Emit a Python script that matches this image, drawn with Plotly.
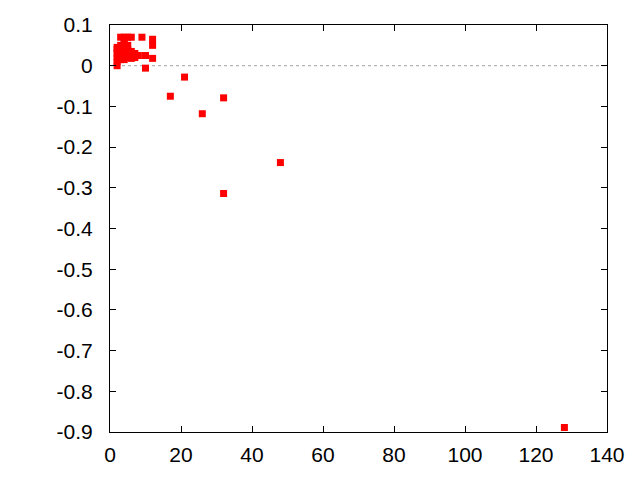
import plotly.graph_objects as go

# data
x_vals = [2, 2, 2, 2, 2, 2,
          3, 3, 3, 3, 3, 3,
          4, 4, 4, 4, 4, 4, 4,
          5, 5, 5, 5, 5,
          6, 6, 6, 6,
          7, 7, 8,
          9, 10, 10,
          12, 12, 12,
          17, 21, 26, 32, 32, 48, 128]
y_vals = [0.0, 0.01, 0.02, 0.03, 0.04, 0.045,
          0.05, 0.04, 0.03, 0.02, 0.015, 0.07,
          0.055, 0.045, 0.035, 0.025, 0.015, 0.07, 0.06,
          0.05, 0.04, 0.03, 0.02, 0.07,
          0.035, 0.025, 0.018, 0.07,
          0.03, 0.02, 0.025,
          0.07, 0.025, -0.006,
          0.065, 0.05, 0.018,
          -0.075, -0.028, -0.118, -0.079, -0.314, -0.238, -0.889]

x_ticks = [0, 20, 40, 60, 80, 100, 120, 140]
y_ticks = [0.1, 0, -0.1, -0.2, -0.3, -0.4, -0.5, -0.6, -0.7, -0.8, -0.9]
y_labels = ["0.1", "0", "-0.1", "-0.2", "-0.3", "-0.4", "-0.5", "-0.6", "-0.7", "-0.8", "-0.9"]

fig = go.Figure()

fig.add_trace(go.Scatter(
    x=x_vals, y=y_vals,
    mode="markers",
    marker=dict(symbol="square", size=7, color="#ff0000", line_width=0),
    cliponaxis=False,
    showlegend=False,
))

# dotted zero line like gnuplot's
fig.add_shape(type="line", xref="paper", x0=0, x1=1, y0=0, y1=0,
              line=dict(color="#a0a0a0", width=1, dash="dot"), layer="below")

axis_style = dict(
    showgrid=False, zeroline=False, showline=True, linecolor="black", linewidth=1,
    mirror="allticks", ticks="inside", ticklen=6, tickcolor="black", automargin=False,
    tickfont=dict(family="Liberation Sans", size=21, color="black"),
)
fig.update_xaxes(range=[0, 140], tickvals=x_ticks, ticklabelstandoff=4, **axis_style)
fig.update_yaxes(range=[-0.9, 0.1], tickvals=y_ticks, ticktext=y_labels,
                 ticklabelstandoff=12, **axis_style)

# page body adds an 8px offset, so margins are shifted to compensate
fig.update_layout(
    width=640, height=480,
    margin=dict(l=102, r=41, t=17, b=56),
    plot_bgcolor="white", paper_bgcolor="white",
)

fig.write_html("out.html")
